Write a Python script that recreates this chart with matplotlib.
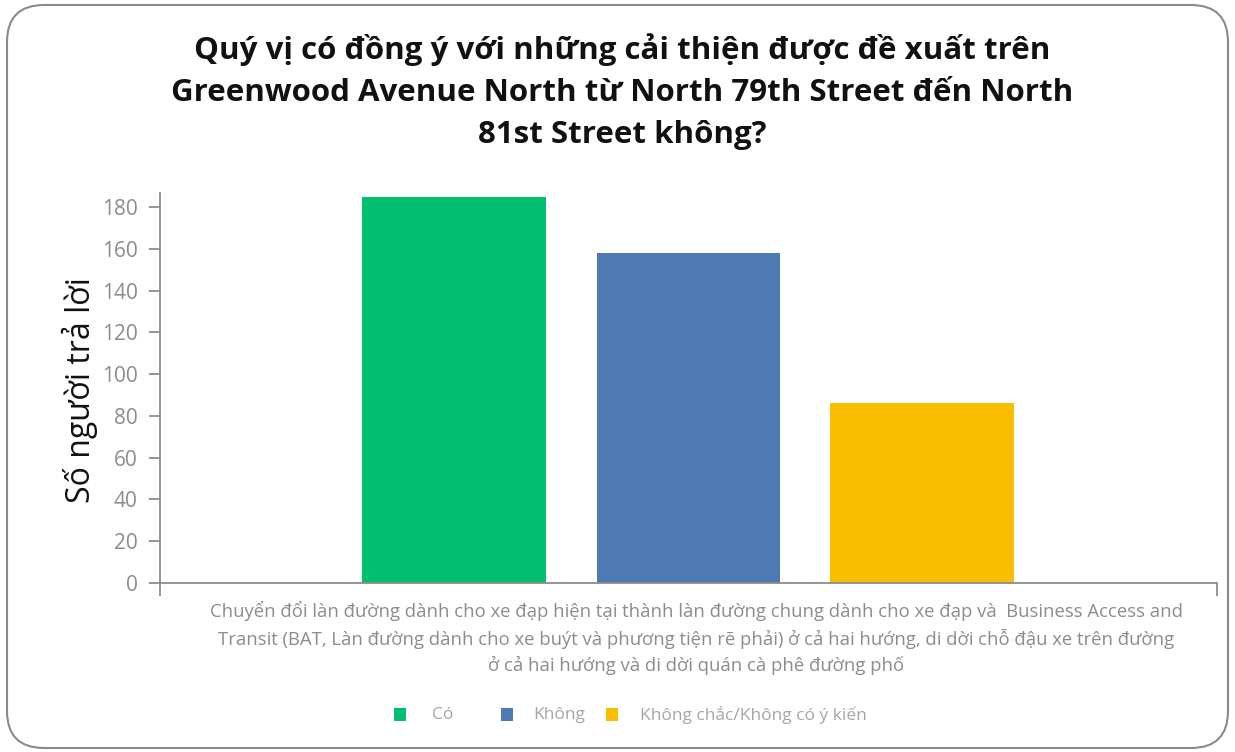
import matplotlib
matplotlib.use("Agg")
import matplotlib.pyplot as plt
from matplotlib.patches import FancyBboxPatch, Rectangle

title = "Quý vị có đồng ý với những cải thiện được đề xuất trên\nGreenwood Avenue North từ North 79th Street đến North\n81st Street không?"
category = ("Chuyển đổi làn đường dành cho xe đạp hiện tại thành làn đường chung dành cho xe đạp và  Business Access and\n"
            "Transit (BAT, Làn đường dành cho xe buýt và phương tiện rẽ phải) ở cả hai hướng, di dời chỗ đậu xe trên đường\n"
            "ở cả hai hướng và di dời quán cà phê đường phố")
series = ["Có", "Không", "Không chắc/Không có ý kiến"]
values = [185, 158, 86]
colors = ["#00BF6F", "#4E7AB3", "#F9BE00"]
y_ticks = [0, 20, 40, 60, 80, 100, 120, 140, 160, 180]
y_label = "Số người trả lời"

plt.rcParams['font.family'] = ['Open Sans', 'DejaVu Sans']

fig = plt.figure(figsize=(12.35, 7.52), dpi=100)
fig.patch.set_facecolor("white")
border = FancyBboxPatch((7/1235, 4/752), 1221/1235, 743/752,
                        boxstyle="round,pad=0,rounding_size=0.03",
                        transform=fig.transFigure, facecolor="none",
                        edgecolor="#8a8a8a", linewidth=1.5, mutation_aspect=1235/752)
fig.patches.append(border)

ax = fig.add_axes([160/1235, 1-583/752, (1217-160)/1235, (583-193)/752])
ax.set_facecolor("none")
offsets = [-0.222, 0.0, 0.221]
for off, v, c in zip(offsets, values, colors):
    ax.bar(off, v, width=0.174, color=c, edgecolor="none")
ax.set_xlim(-0.5, 0.5)
ax.set_ylim(0, 186.7)
ax.set_yticks(y_ticks)
ax.set_yticklabels([str(t) for t in y_ticks], fontsize=15, color="#8c8c8c")
ax.set_xticks([-0.5, 0.5])
ax.set_xticklabels(["", ""])
for s in ["top", "right"]:
    ax.spines[s].set_visible(False)
for s in ["left", "bottom"]:
    ax.spines[s].set_color("#8c8c8c")
    ax.spines[s].set_linewidth(1.3)
ax.tick_params(axis="both", direction="out", length=8, width=1.3, color="#8c8c8c", pad=8)
ax.tick_params(axis="x", length=9)

fig.text(622/1235, 1-92/752, title, ha="center", va="center", fontsize=22.5,
         fontweight="bold", linespacing=1.52, color="#111111")
fig.text(80/1235, 1-390/752, y_label, ha="center", va="center", rotation=90,
         fontsize=23, color="#111111")
fig.text(696/1235, 1-638/752, category, ha="center", va="center", fontsize=13.3,
         color="#8c8c8c", linespacing=1.48)

leg_x = [400, 507, 612]
txt_x = [432, 533, 640]
for lx, tx, s, c in zip(leg_x, txt_x, series, colors):
    fig.patches.append(Rectangle(((lx-6)/1235, 1-721/752), 12/1235, 13/752,
                                 transform=fig.transFigure, facecolor=c, edgecolor="none"))
    fig.text(tx/1235, 1-715/752, s, ha="left", va="center", fontsize=12.5, color="#a6a6a6")

fig.savefig("out.png", dpi=100, facecolor="white")
